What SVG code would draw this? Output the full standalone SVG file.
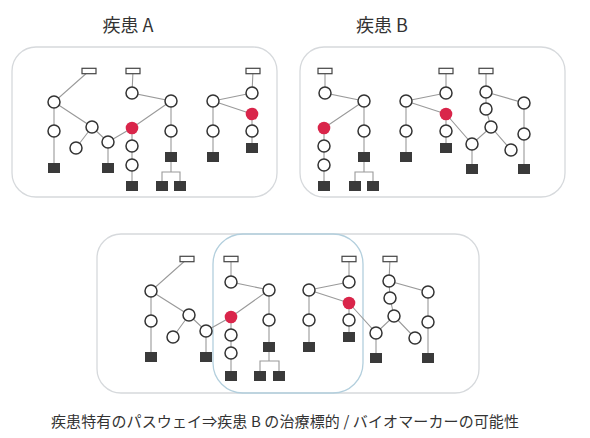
<svg xmlns="http://www.w3.org/2000/svg" width="590" height="438" viewBox="0 0 590 438">
<style>
.panel{fill:none;stroke:#d6d9dc;stroke-width:1.3}
.blue{fill:none;stroke:#b3cfdd;stroke-width:1.3}
.e{stroke:#9a9a9a;stroke-width:1.1;fill:none}
.c{fill:#fff;stroke:#333;stroke-width:1.5}
.r{fill:#d9254a;stroke:none}
.s{fill:#3a3a3a}
.t{fill:#fff;stroke:#444;stroke-width:1.2}
.title{font-family:"Noto Sans CJK JP","Liberation Sans",sans-serif;font-size:18px;fill:#333}
.cap{font-family:"Noto Sans CJK JP","Liberation Sans",sans-serif;font-size:15px;fill:#333}
</style>
<defs>
<circle id="c" r="6" class="c"/>
<circle id="r" r="6.3" class="r"/>
<rect id="s" x="-6" y="-5" width="12" height="10" class="s"/>
<rect id="t" x="-7" y="-2.7" width="14" height="5.4" class="t"/>
</defs>
<text class="title" x="128" y="32" text-anchor="middle">疾患 A</text>
<text class="title" x="382" y="32" text-anchor="middle">疾患 B</text>
<g id="panelA">
<rect class="panel" x="12" y="47" width="265" height="150" rx="24"/>
</g>
<g id="panelB">
<rect class="panel" x="300" y="47" width="265" height="150" rx="24"/>
</g>
<g id="panelC">
<rect class="panel" x="97" y="234" width="382" height="159" rx="24"/>
<rect class="blue" x="213" y="234" width="150" height="159" rx="30"/>
</g>
<g id="connectors">
<path class="e" d="M89 71L54 102L54 168M54 102L92 127L76 148M92 127L108 142L108 168M108 142L132 128L171 101M133 71L132 93L171 101L171 157L171 172M162 186L162 172L180 172L180 186M132 128L132 186M213 101L252 93M213 101L252 114M213 101L213 157M253 71L252 93M252 114L252 148"/>
<path class="e" d="M325 71L325 93L364 101L324 128M364 101L364 172M355 186L355 172L373 172L373 186M324 128L324 186M406 101L446 93M406 101L446 114M406 101L406 157M446 71L446 93M446 114L446 148M446 114L472 144L472 169M472 144L491 127L511 150M491 127L486 109L486 92L486 71M486 92L524 103L524 169"/>
<path class="e" d="M187 259L151 291L151 357M151 291L189 315L173 337M189 315L206 331L206 357M206 331L231 317L269 290M231 259L231 282L269 290L269 361M260 376L260 361L279 361L279 376M231 317L231 376M309 290L349 282M309 290L349 303M309 290L309 347M349 259L349 282M349 303L349 337M349 303L376 333L376 358M376 333L394 316L415 338M394 316L390 298L389 281L390 259M389 281L428 292L428 358"/>
</g>
<g id="nodesA">
<use href="#t" x="89" y="71"/><use href="#t" x="133" y="71"/><use href="#t" x="253" y="71"/>
<use href="#c" x="54" y="102"/><use href="#c" x="54" y="131"/><use href="#c" x="92" y="127"/><use href="#c" x="76" y="148"/><use href="#c" x="108" y="142"/>
<use href="#r" x="132" y="128"/><use href="#c" x="132" y="93"/><use href="#c" x="132" y="146"/><use href="#c" x="132" y="165"/>
<use href="#c" x="171" y="101"/><use href="#c" x="171" y="131"/><use href="#c" x="213" y="101"/><use href="#c" x="213" y="131"/>
<use href="#c" x="252" y="93"/><use href="#r" x="252" y="114"/><use href="#c" x="252" y="131"/>
<use href="#s" x="54" y="168"/><use href="#s" x="108" y="168"/><use href="#s" x="132" y="186"/><use href="#s" x="171" y="157"/><use href="#s" x="162" y="186"/><use href="#s" x="180" y="186"/><use href="#s" x="213" y="157"/><use href="#s" x="252" y="148"/>
</g>
<g id="nodesB">
<use href="#t" x="325" y="71"/><use href="#t" x="446" y="71"/><use href="#t" x="486" y="71"/>
<use href="#c" x="325" y="93"/><use href="#c" x="364" y="101"/><use href="#r" x="324" y="128"/><use href="#c" x="324" y="146"/><use href="#c" x="324" y="165"/>
<use href="#c" x="364" y="131"/><use href="#c" x="406" y="101"/><use href="#c" x="406" y="131"/><use href="#c" x="446" y="93"/><use href="#r" x="446" y="114"/><use href="#c" x="446" y="131"/>
<use href="#c" x="472" y="144"/><use href="#c" x="486" y="92"/><use href="#c" x="486" y="109"/><use href="#c" x="491" y="127"/><use href="#c" x="511" y="150"/><use href="#c" x="524" y="103"/><use href="#c" x="524" y="134"/>
<use href="#s" x="324" y="186"/><use href="#s" x="364" y="157"/><use href="#s" x="355" y="186"/><use href="#s" x="373" y="186"/><use href="#s" x="406" y="157"/><use href="#s" x="446" y="148"/><use href="#s" x="472" y="169"/><use href="#s" x="524" y="169"/>
</g>
<g id="nodesC">
<use href="#t" x="187" y="259"/><use href="#t" x="231" y="259"/><use href="#t" x="349" y="259"/><use href="#t" x="390" y="259"/>
<use href="#c" x="151" y="291"/><use href="#c" x="151" y="321"/><use href="#c" x="189" y="315"/><use href="#c" x="173" y="337"/><use href="#c" x="206" y="331"/>
<use href="#r" x="231" y="317"/><use href="#c" x="231" y="282"/><use href="#c" x="231" y="335"/><use href="#c" x="231" y="353"/>
<use href="#c" x="269" y="290"/><use href="#c" x="269" y="320"/><use href="#c" x="309" y="290"/><use href="#c" x="309" y="320"/>
<use href="#c" x="349" y="282"/><use href="#r" x="349" y="303"/><use href="#c" x="349" y="320"/><use href="#c" x="376" y="333"/>
<use href="#c" x="389" y="281"/><use href="#c" x="390" y="298"/><use href="#c" x="394" y="316"/><use href="#c" x="415" y="338"/><use href="#c" x="428" y="292"/><use href="#c" x="428" y="322"/>
<use href="#s" x="151" y="357"/><use href="#s" x="206" y="357"/><use href="#s" x="231" y="376"/><use href="#s" x="269" y="347"/><use href="#s" x="260" y="376"/><use href="#s" x="279" y="376"/><use href="#s" x="309" y="347"/><use href="#s" x="349" y="337"/><use href="#s" x="376" y="358"/><use href="#s" x="428" y="358"/>
</g>
<text class="cap" x="285" y="427" text-anchor="middle" textLength="468" lengthAdjust="spacing">疾患特有のパスウェイ⇒疾患 B の治療標的 / バイオマーカーの可能性</text>
</svg>
